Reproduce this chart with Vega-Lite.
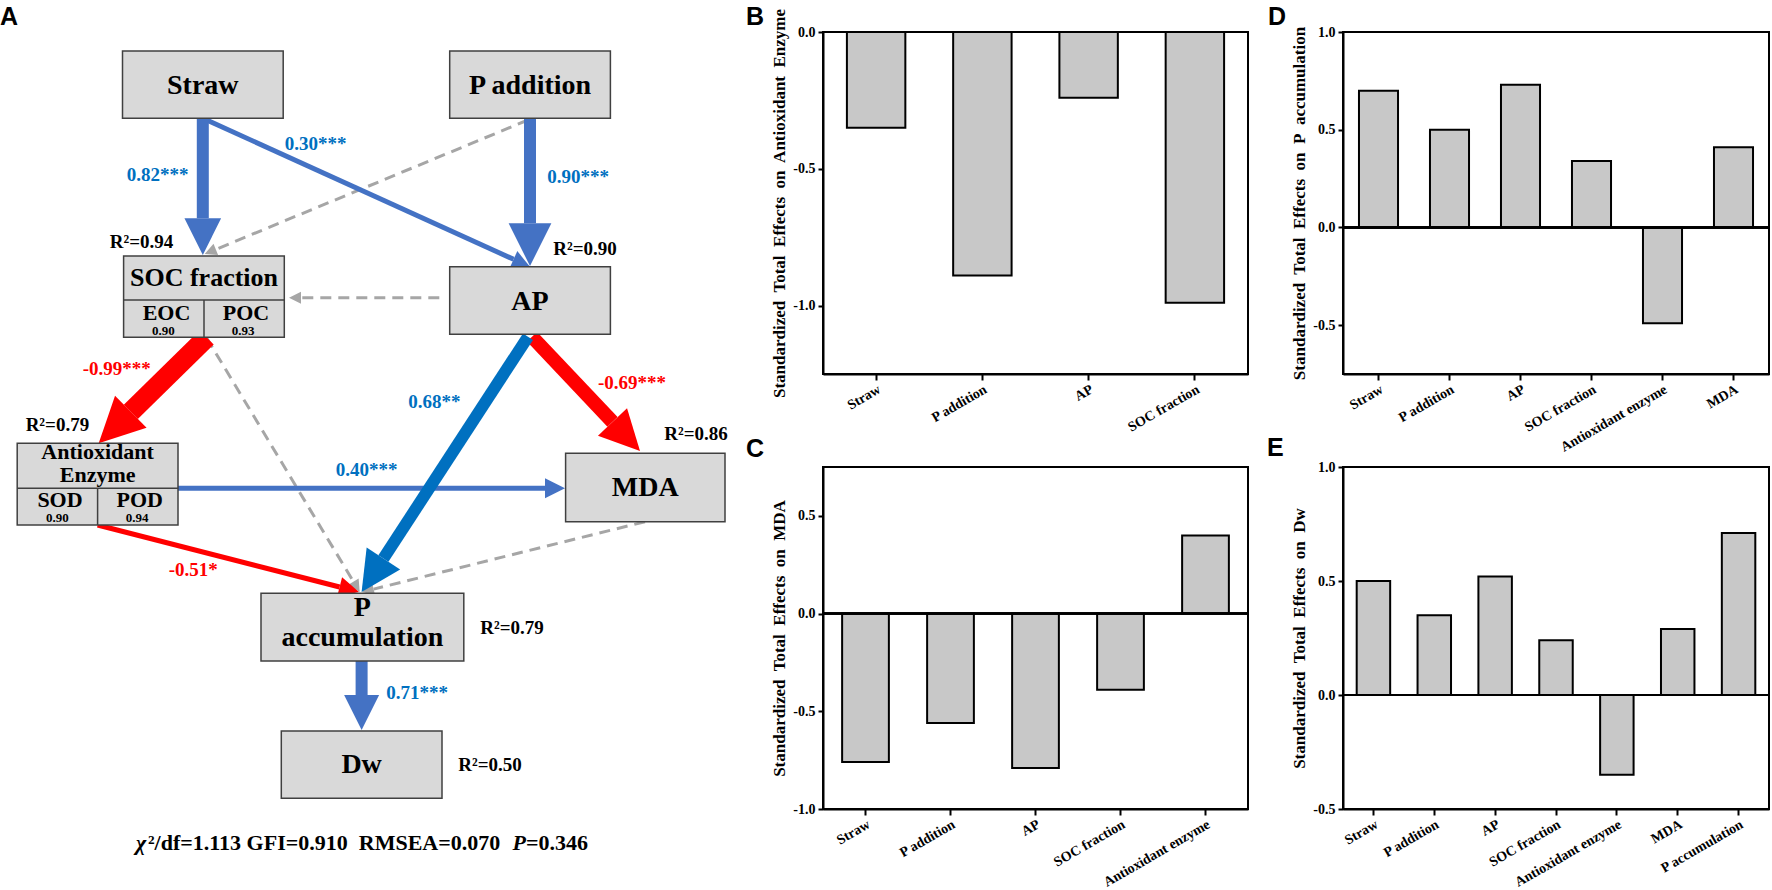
{
  "$schema": "https://vega.github.io/schema/vega-lite/v6.json",
  "background": "white",
  "padding": {"left": 0, "top": 5, "right": 0, "bottom": 0},
  "autosize": {"type": "pad"},
  "bounds": "flush",
  "columns": 3,
  "spacing": {"row": 93, "column": 95},
  "config": {
    "view": {"stroke": null},
    "axis": {"grid": false, "domainColor": "black", "domainWidth": 2, "tickColor": "black", "tickWidth": 2, "labelColor": "black", "labelFont": "Liberation Serif", "labelFontWeight": "bold", "titleFont": "Liberation Serif", "titleFontWeight": "bold", "titleColor": "black"},
    "axisX": {"labelAngle": -30, "labelFontSize": 14, "tickSize": 6, "labelPadding": 2, "labelOverlap": false},
    "axisY": {"labelFontSize": 14, "tickSize": 5, "labelPadding": 3, "titleFontSize": 17, "titlePadding": 4}
  },
  "datasets": {
    "effects": [
      {"panel": "B", "factor": "Straw", "value": -0.35},
      {"panel": "B", "factor": "P addition", "value": -0.89},
      {"panel": "B", "factor": "AP", "value": -0.24},
      {"panel": "B", "factor": "SOC fraction", "value": -0.99},
      {"panel": "C", "factor": "Straw", "value": -0.76},
      {"panel": "C", "factor": "P addition", "value": -0.56},
      {"panel": "C", "factor": "AP", "value": -0.79},
      {"panel": "C", "factor": "SOC fraction", "value": -0.39},
      {"panel": "C", "factor": "Antioxidant enzyme", "value": 0.40},
      {"panel": "D", "factor": "Straw", "value": 0.70},
      {"panel": "D", "factor": "P addition", "value": 0.50},
      {"panel": "D", "factor": "AP", "value": 0.73},
      {"panel": "D", "factor": "SOC fraction", "value": 0.34},
      {"panel": "D", "factor": "Antioxidant enzyme", "value": -0.49},
      {"panel": "D", "factor": "MDA", "value": 0.41},
      {"panel": "E", "factor": "Straw", "value": 0.50},
      {"panel": "E", "factor": "P addition", "value": 0.35},
      {"panel": "E", "factor": "AP", "value": 0.52},
      {"panel": "E", "factor": "SOC fraction", "value": 0.24},
      {"panel": "E", "factor": "Antioxidant enzyme", "value": -0.35},
      {"panel": "E", "factor": "MDA", "value": 0.29},
      {"panel": "E", "factor": "P accumulation", "value": 0.71}
    ],
    "nodes": [
      {"node": "Straw", "x": 122.5, "x2": 283.2, "y": 51, "y2": 118.3},
      {"node": "P addition", "x": 449.7, "x2": 610.4, "y": 51, "y2": 118.3},
      {"node": "SOC fraction", "x": 123.6, "x2": 284.3, "y": 256, "y2": 337.3},
      {"node": "AP", "x": 449.7, "x2": 610.4, "y": 266.7, "y2": 334.3},
      {"node": "Antioxidant Enzyme", "x": 17.2, "x2": 178, "y": 443.3, "y2": 525},
      {"node": "MDA", "x": 565.6, "x2": 725, "y": 453.3, "y2": 521.7},
      {"node": "P accumulation", "x": 261, "x2": 463.8, "y": 593.3, "y2": 661},
      {"node": "Dw", "x": 281.3, "x2": 442, "y": 731, "y2": 798.3}
    ],
    "dividers": [
      {"x": 123.6, "x2": 284.3, "y": 300, "y2": 300},
      {"x": 204, "x2": 204, "y": 300, "y2": 337.3},
      {"x": 17.2, "x2": 178, "y": 488.3, "y2": 488.3},
      {"x": 97.6, "x2": 97.6, "y": 488.3, "y2": 525}
    ],
    "paths": [
      {"path": "P addition-SOC fraction", "x": 528, "y": 120, "xb": 215.8, "yb": 249.4, "xt": 204.7, "yt": 254, "beta": null, "effect": "not significant"},
      {"path": "AP-SOC fraction", "x": 439.3, "y": 297.7, "xb": 301, "yb": 297.7, "xt": 289, "yt": 297.7, "beta": null, "effect": "not significant"},
      {"path": "SOC fraction-P accumulation", "x": 206.7, "y": 338, "xb": 353.5, "yb": 581.7, "xt": 359.7, "yt": 592, "beta": null, "effect": "not significant"},
      {"path": "MDA-P accumulation", "x": 645, "y": 521.7, "xb": 373.6, "yb": 589.1, "xt": 362, "yt": 592, "beta": null, "effect": "not significant"},
      {"path": "Straw-AP", "x": 206.7, "y": 120, "xb": 513.6, "yb": 259.3, "xt": 530, "yt": 266.7, "beta": 0.30, "effect": "positive ***"},
      {"path": "Antioxidant-MDA", "x": 178, "y": 488.3, "xb": 545, "yb": 488.3, "xt": 565, "yt": 488.3, "beta": 0.40, "effect": "positive ***"},
      {"path": "Antioxidant-P accumulation", "x": 97.6, "y": 525, "xb": 339.6, "yb": 587, "xt": 359, "yt": 592, "beta": -0.51, "effect": "negative"},
      {"path": "Straw-SOC fraction", "x": 202.8, "y": 118.3, "xb": 202.8, "yb": 218.3, "xt": 202.8, "yt": 255, "beta": 0.82, "effect": "positive ***"},
      {"path": "P addition-AP", "x": 530, "y": 118.3, "xb": 530, "yb": 223.3, "xt": 530, "yt": 266, "beta": 0.90, "effect": "positive ***"},
      {"path": "SOC fraction-Antioxidant", "x": 206.7, "y": 337.3, "xb": 130.8, "yb": 411.8, "xt": 98.7, "yt": 443.3, "beta": -0.99, "effect": "negative"},
      {"path": "AP-MDA", "x": 532, "y": 336.7, "xb": 612.5, "yb": 421.9, "xt": 640, "yt": 451, "beta": -0.69, "effect": "negative"},
      {"path": "AP-P accumulation", "x": 528, "y": 336.7, "xb": 383.4, "yb": 558.5, "xt": 361.6, "yt": 592, "beta": 0.68, "effect": "positive **"},
      {"path": "P accumulation-Dw", "x": 361.6, "y": 661, "xb": 361.6, "yb": 695, "xt": 361.6, "yt": 730, "beta": 0.71, "effect": "positive ***"}
    ],
    "texts": [
      {"role": "panel", "text": "A", "x": 0, "y": 25},
      {"role": "panel", "text": "B", "x": 746, "y": 25},
      {"role": "panel", "text": "C", "x": 746, "y": 457},
      {"role": "panel", "text": "D", "x": 1268, "y": 25},
      {"role": "panel", "text": "E", "x": 1267, "y": 456},
      {"role": "node", "text": "Straw", "x": 202.8, "y": 86},
      {"role": "node", "text": "P addition", "x": 530, "y": 86},
      {"role": "node", "text": "AP", "x": 530, "y": 301.7},
      {"role": "node", "text": "MDA", "x": 645.3, "y": 488},
      {"role": "node", "text": "P", "x": 362.4, "y": 608},
      {"role": "node", "text": "accumulation", "x": 362.4, "y": 638},
      {"role": "node", "text": "Dw", "x": 361.6, "y": 765},
      {"role": "nodewide", "text": "SOC fraction", "x": 204, "y": 278},
      {"role": "node2", "text": "Antioxidant", "x": 97.6, "y": 452},
      {"role": "node2", "text": "Enzyme", "x": 97.6, "y": 474.5},
      {"role": "sub", "text": "EOC", "x": 166.5, "y": 313},
      {"role": "sub", "text": "POC", "x": 246, "y": 313},
      {"role": "sub", "text": "SOD", "x": 60, "y": 500},
      {"role": "sub", "text": "POD", "x": 139.7, "y": 500},
      {"role": "subval", "text": "0.90", "x": 163.4, "y": 331},
      {"role": "subval", "text": "0.93", "x": 243, "y": 331},
      {"role": "subval", "text": "0.90", "x": 57.4, "y": 518},
      {"role": "subval", "text": "0.94", "x": 137, "y": 518},
      {"role": "r2", "text": "R²=0.94", "x": 141.6, "y": 241.7},
      {"role": "r2", "text": "R²=0.90", "x": 585, "y": 249.3},
      {"role": "r2", "text": "R²=0.79", "x": 57.4, "y": 425},
      {"role": "r2", "text": "R²=0.86", "x": 696, "y": 434},
      {"role": "r2", "text": "R²=0.79", "x": 512, "y": 628.3},
      {"role": "r2", "text": "R²=0.50", "x": 490, "y": 765},
      {"role": "path", "text": "0.82***", "sign": "positive", "x": 157.7, "y": 175},
      {"role": "path", "text": "0.30***", "sign": "positive", "x": 315.7, "y": 144},
      {"role": "path", "text": "0.90***", "sign": "positive", "x": 578, "y": 176.7},
      {"role": "path", "text": "-0.99***", "sign": "negative", "x": 116.7, "y": 369.3},
      {"role": "path", "text": "0.68**", "sign": "positive", "x": 434.4, "y": 401.7},
      {"role": "path", "text": "-0.69***", "sign": "negative", "x": 632, "y": 383},
      {"role": "path", "text": "0.40***", "sign": "positive", "x": 366.6, "y": 470},
      {"role": "path", "text": "-0.51*", "sign": "negative", "x": 193.3, "y": 570},
      {"role": "path", "text": "0.71***", "sign": "positive", "x": 417, "y": 693.3},
      {"role": "stat_it", "text": "χ", "x": 136, "y": 843},
      {"role": "stat", "text": "²/df=1.113 GFI=0.910\u00a0\u00a0RMSEA=0.070", "x": 148, "y": 843},
      {"role": "stat_it", "text": "P", "x": 512.5, "y": 843},
      {"role": "stat", "text": "=0.346", "x": 526, "y": 843}
    ]
  },
  "concat": [
    {
      "width": 728,
      "height": 342,
      "view": {"stroke": null},
      "layer": [
        {
          "data": {"name": "paths"},
          "transform": [{"filter": "datum.effect === 'not significant'"}],
          "mark": {"type": "rule", "stroke": "#A6A6A6", "strokeWidth": 3, "strokeDash": [11, 7]},
          "encoding": {
            "x": {"field": "x", "type": "quantitative", "scale": {"domain": [0, 728], "nice": false, "zero": false}, "axis": null},
            "y": {"field": "y", "type": "quantitative", "scale": {"domain": [32, 374], "nice": false, "zero": false, "reverse": true}, "axis": null},
            "x2": {"field": "xb"},
            "y2": {"field": "yb"}
          }
        },
        {
          "data": {"name": "paths"},
          "transform": [{"filter": "datum.effect !== 'not significant'"}],
          "mark": {"type": "rule"},
          "encoding": {
            "x": {"field": "x", "type": "quantitative", "scale": {"domain": [0, 728], "nice": false, "zero": false}, "axis": null},
            "y": {"field": "y", "type": "quantitative", "scale": {"domain": [32, 374], "nice": false, "zero": false, "reverse": true}, "axis": null},
            "x2": {"field": "xb"},
            "y2": {"field": "yb"},
            "stroke": {"field": "effect", "type": "nominal", "scale": {"domain": ["positive ***", "positive **", "negative"], "range": ["#4472C4", "#0070C0", "#FF0000"]}, "legend": null},
            "strokeWidth": {"field": "beta", "type": "quantitative", "scale": {"type": "threshold", "domain": [-0.95, -0.6, 0.6], "range": [20, 14, 5, 12]}, "legend": null}
          }
        },
        {
          "data": {"name": "paths"},
          "transform": [
            {"calculate": "atan2(datum.yt - datum.yb, datum.xt - datum.xb) * 180 / PI", "as": "headAngle"},
            {"calculate": "pow(datum.xt - datum.xb, 2) + pow(datum.yt - datum.yb, 2)", "as": "headArea"}
          ],
          "mark": {"type": "point", "shape": "M0,0L-2,-1L-2,1Z", "filled": true, "opacity": 1, "strokeWidth": 0},
          "encoding": {
            "x": {"field": "xt", "type": "quantitative", "scale": {"domain": [0, 728], "nice": false, "zero": false}, "axis": null},
            "y": {"field": "yt", "type": "quantitative", "scale": {"domain": [32, 374], "nice": false, "zero": false, "reverse": true}, "axis": null},
            "fill": {"field": "effect", "type": "nominal", "scale": {"domain": ["positive ***", "positive **", "negative", "not significant"], "range": ["#4472C4", "#0070C0", "#FF0000", "#A6A6A6"]}, "legend": null},
            "angle": {"field": "headAngle", "type": "quantitative", "scale": null},
            "size": {"field": "headArea", "type": "quantitative", "scale": null, "legend": null}
          }
        },
        {
          "data": {"name": "nodes"},
          "mark": {"type": "rect", "fill": "#D9D9D9", "stroke": "#404040", "strokeWidth": 1.5},
          "encoding": {
            "x": {"field": "x", "type": "quantitative", "scale": {"domain": [0, 728], "nice": false, "zero": false}, "axis": null},
            "y": {"field": "y", "type": "quantitative", "scale": {"domain": [32, 374], "nice": false, "zero": false, "reverse": true}, "axis": null},
            "x2": {"field": "x2"},
            "y2": {"field": "y2"}
          }
        },
        {
          "data": {"name": "dividers"},
          "mark": {"type": "rule", "stroke": "#404040", "strokeWidth": 1.5},
          "encoding": {
            "x": {"field": "x", "type": "quantitative", "scale": {"domain": [0, 728], "nice": false, "zero": false}, "axis": null},
            "y": {"field": "y", "type": "quantitative", "scale": {"domain": [32, 374], "nice": false, "zero": false, "reverse": true}, "axis": null},
            "x2": {"field": "x2"},
            "y2": {"field": "y2"}
          }
        },
        {
          "data": {"name": "texts"},
          "transform": [{"filter": "datum.role === 'panel'"}],
          "mark": {"type": "text", "font": "Liberation Sans", "fontWeight": "bold", "fontSize": 25, "align": "left", "baseline": "alphabetic", "color": "black"},
          "encoding": {
            "x": {"field": "x", "type": "quantitative", "scale": {"domain": [0, 728], "nice": false, "zero": false}, "axis": null},
            "y": {"field": "y", "type": "quantitative", "scale": {"domain": [32, 374], "nice": false, "zero": false, "reverse": true}, "axis": null},
            "text": {"field": "text"}
          }
        },
        {
          "data": {"name": "texts"},
          "transform": [{"filter": "datum.role === 'node'"}],
          "mark": {"type": "text", "font": "Liberation Serif", "fontWeight": "bold", "fontSize": 28, "align": "center", "baseline": "middle", "color": "black"},
          "encoding": {
            "x": {"field": "x", "type": "quantitative", "scale": {"domain": [0, 728], "nice": false, "zero": false}, "axis": null},
            "y": {"field": "y", "type": "quantitative", "scale": {"domain": [32, 374], "nice": false, "zero": false, "reverse": true}, "axis": null},
            "text": {"field": "text"}
          }
        },
        {
          "data": {"name": "texts"},
          "transform": [{"filter": "datum.role === 'nodewide'"}],
          "mark": {"type": "text", "font": "Liberation Serif", "fontWeight": "bold", "fontSize": 26, "align": "center", "baseline": "middle", "color": "black"},
          "encoding": {
            "x": {"field": "x", "type": "quantitative", "scale": {"domain": [0, 728], "nice": false, "zero": false}, "axis": null},
            "y": {"field": "y", "type": "quantitative", "scale": {"domain": [32, 374], "nice": false, "zero": false, "reverse": true}, "axis": null},
            "text": {"field": "text"}
          }
        },
        {
          "data": {"name": "texts"},
          "transform": [{"filter": "datum.role === 'node2' || datum.role === 'sub'"}],
          "mark": {"type": "text", "font": "Liberation Serif", "fontWeight": "bold", "fontSize": 22, "align": "center", "baseline": "middle", "color": "black"},
          "encoding": {
            "x": {"field": "x", "type": "quantitative", "scale": {"domain": [0, 728], "nice": false, "zero": false}, "axis": null},
            "y": {"field": "y", "type": "quantitative", "scale": {"domain": [32, 374], "nice": false, "zero": false, "reverse": true}, "axis": null},
            "text": {"field": "text"}
          }
        },
        {
          "data": {"name": "texts"},
          "transform": [{"filter": "datum.role === 'subval'"}],
          "mark": {"type": "text", "font": "Liberation Serif", "fontWeight": "bold", "fontSize": 13, "align": "center", "baseline": "middle", "color": "black"},
          "encoding": {
            "x": {"field": "x", "type": "quantitative", "scale": {"domain": [0, 728], "nice": false, "zero": false}, "axis": null},
            "y": {"field": "y", "type": "quantitative", "scale": {"domain": [32, 374], "nice": false, "zero": false, "reverse": true}, "axis": null},
            "text": {"field": "text"}
          }
        },
        {
          "data": {"name": "texts"},
          "transform": [{"filter": "datum.role === 'r2'"}],
          "mark": {"type": "text", "font": "Liberation Serif", "fontWeight": "bold", "fontSize": 19, "align": "center", "baseline": "middle", "color": "black"},
          "encoding": {
            "x": {"field": "x", "type": "quantitative", "scale": {"domain": [0, 728], "nice": false, "zero": false}, "axis": null},
            "y": {"field": "y", "type": "quantitative", "scale": {"domain": [32, 374], "nice": false, "zero": false, "reverse": true}, "axis": null},
            "text": {"field": "text"}
          }
        },
        {
          "data": {"name": "texts"},
          "transform": [{"filter": "datum.role === 'path'"}],
          "mark": {"type": "text", "font": "Liberation Serif", "fontWeight": "bold", "fontSize": 19, "align": "center", "baseline": "middle"},
          "encoding": {
            "x": {"field": "x", "type": "quantitative", "scale": {"domain": [0, 728], "nice": false, "zero": false}, "axis": null},
            "y": {"field": "y", "type": "quantitative", "scale": {"domain": [32, 374], "nice": false, "zero": false, "reverse": true}, "axis": null},
            "text": {"field": "text"},
            "color": {"field": "sign", "type": "nominal", "scale": {"domain": ["positive", "negative"], "range": ["#0070C0", "#FF0000"]}, "legend": null}
          }
        },
        {
          "data": {"name": "texts"},
          "transform": [{"filter": "datum.role === 'stat'"}],
          "mark": {"type": "text", "font": "Liberation Serif", "fontWeight": "bold", "fontSize": 22, "align": "left", "baseline": "middle", "color": "black"},
          "encoding": {
            "x": {"field": "x", "type": "quantitative", "scale": {"domain": [0, 728], "nice": false, "zero": false}, "axis": null},
            "y": {"field": "y", "type": "quantitative", "scale": {"domain": [32, 374], "nice": false, "zero": false, "reverse": true}, "axis": null},
            "text": {"field": "text"}
          }
        },
        {
          "data": {"name": "texts"},
          "transform": [{"filter": "datum.role === 'stat_it'"}],
          "mark": {"type": "text", "font": "Liberation Serif", "fontWeight": "bold", "fontStyle": "italic", "fontSize": 22, "align": "left", "baseline": "middle", "color": "black"},
          "encoding": {
            "x": {"field": "x", "type": "quantitative", "scale": {"domain": [0, 728], "nice": false, "zero": false}, "axis": null},
            "y": {"field": "y", "type": "quantitative", "scale": {"domain": [32, 374], "nice": false, "zero": false, "reverse": true}, "axis": null},
            "text": {"field": "text"}
          }
        }
      ]
    },
    {
      "width": 425,
      "height": 342,
      "view": {"stroke": "black", "strokeWidth": 2},
      "data": {"name": "effects"},
      "transform": [{"filter": "datum.panel === 'B'"}],
      "layer": [
        {
          "mark": {"type": "bar", "fill": "#C8C8C8", "stroke": "black", "strokeWidth": 2},
          "encoding": {
            "x": {"field": "factor", "type": "nominal", "sort": null, "title": null, "scale": {"paddingInner": 0.45, "paddingOuter": 0.225}},
            "y": {"field": "value", "type": "quantitative", "scale": {"domain": [-1.25, 0], "nice": false}, "axis": {"title": "Standardized\u00a0 Total\u00a0 Effects\u00a0 on\u00a0 Antioxidant\u00a0 Enzyme", "values": [-1, -0.5, 0], "labelExpr": "replace(format(datum.value, '.1f'), '\u2212', '-')"}}
          }
        },
        {
          "mark": {"type": "rule", "color": "black", "strokeWidth": 2},
          "encoding": {"y": {"datum": 0}}
        }
      ]
    },
    {
      "width": 426,
      "height": 342,
      "view": {"stroke": "black", "strokeWidth": 2},
      "data": {"name": "effects"},
      "transform": [{"filter": "datum.panel === 'D'"}],
      "layer": [
        {
          "mark": {"type": "bar", "fill": "#C8C8C8", "stroke": "black", "strokeWidth": 2},
          "encoding": {
            "x": {"field": "factor", "type": "nominal", "sort": null, "title": null, "scale": {"paddingInner": 0.45, "paddingOuter": 0.225}},
            "y": {"field": "value", "type": "quantitative", "scale": {"domain": [-0.75, 1], "nice": false}, "axis": {"title": "Standardized\u00a0 Total\u00a0 Effects\u00a0 on\u00a0 P\u00a0 accumulation", "values": [-0.5, 0, 0.5, 1], "labelExpr": "replace(format(datum.value, '.1f'), '\u2212', '-')"}}
          }
        },
        {
          "mark": {"type": "rule", "color": "black", "strokeWidth": 2},
          "encoding": {"y": {"datum": 0}}
        }
      ]
    },
    {
      "width": 728,
      "height": 342,
      "data": {"values": [{}]},
      "mark": {"type": "point", "opacity": 0}
    },
    {
      "width": 425,
      "height": 342,
      "view": {"stroke": "black", "strokeWidth": 2},
      "data": {"name": "effects"},
      "transform": [{"filter": "datum.panel === 'C'"}],
      "layer": [
        {
          "mark": {"type": "bar", "fill": "#C8C8C8", "stroke": "black", "strokeWidth": 2},
          "encoding": {
            "x": {"field": "factor", "type": "nominal", "sort": null, "title": null, "scale": {"paddingInner": 0.45, "paddingOuter": 0.225}},
            "y": {"field": "value", "type": "quantitative", "scale": {"domain": [-1, 0.75], "nice": false}, "axis": {"title": "Standardized\u00a0 Total\u00a0 Effects\u00a0 on\u00a0 MDA", "values": [-1, -0.5, 0, 0.5], "labelExpr": "replace(format(datum.value, '.1f'), '\u2212', '-')"}}
          }
        },
        {
          "mark": {"type": "rule", "color": "black", "strokeWidth": 2},
          "encoding": {"y": {"datum": 0}}
        }
      ]
    },
    {
      "width": 426,
      "height": 342,
      "view": {"stroke": "black", "strokeWidth": 2},
      "data": {"name": "effects"},
      "transform": [{"filter": "datum.panel === 'E'"}],
      "layer": [
        {
          "mark": {"type": "bar", "fill": "#C8C8C8", "stroke": "black", "strokeWidth": 2},
          "encoding": {
            "x": {"field": "factor", "type": "nominal", "sort": null, "title": null, "scale": {"paddingInner": 0.45, "paddingOuter": 0.225}},
            "y": {"field": "value", "type": "quantitative", "scale": {"domain": [-0.5, 1], "nice": false}, "axis": {"title": "Standardized\u00a0 Total\u00a0 Effects\u00a0 on\u00a0 Dw", "values": [-0.5, 0, 0.5, 1], "labelExpr": "replace(format(datum.value, '.1f'), '\u2212', '-')"}}
          }
        },
        {
          "mark": {"type": "rule", "color": "black", "strokeWidth": 2},
          "encoding": {"y": {"datum": 0}}
        }
      ]
    }
  ]
}
